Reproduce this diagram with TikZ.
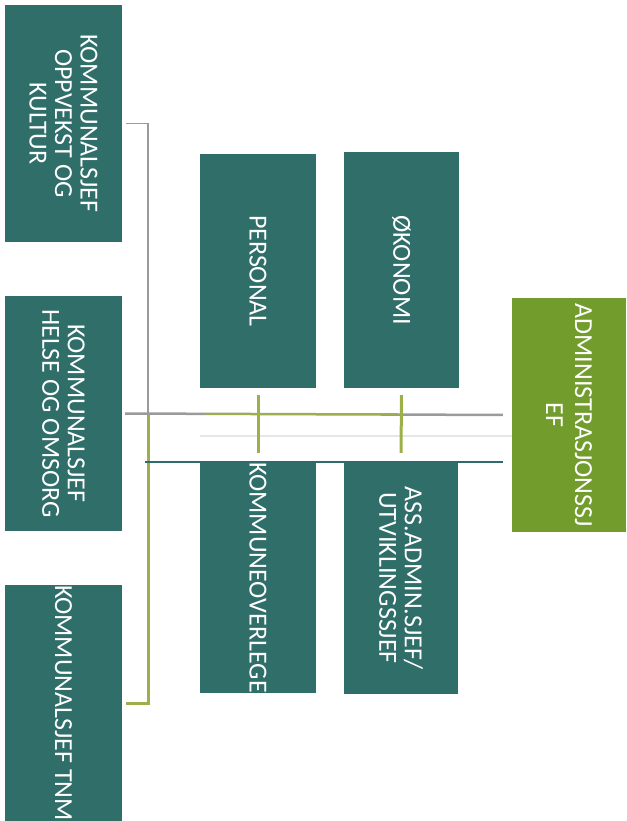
\documentclass[tikz,border=0pt]{standalone}
\usepackage{fontspec}
\setmainfont{Carlito}
\definecolor{tealbox}{HTML}{2F6E69}
\definecolor{greenbox}{HTML}{729C2C}
\definecolor{greenline}{HTML}{9CB04A}
\definecolor{grayline}{HTML}{9A9A9A}
\definecolor{tealline}{HTML}{2F6B6B}
\definecolor{faint}{HTML}{E6E6E6}
\tikzset{
  box/.style={fill=tealbox, text=white, rotate=-90, align=center, inner sep=0pt,
    font=\fontsize{26}{25.5}\selectfont},
  adminbox/.style={box, fill=greenbox, font=\fontsize{26}{29}\selectfont},
  gline/.style={draw=greenline, line width=3pt},
  grline/.style={draw=grayline, line width=1.4pt},
  tline/.style={draw=tealline, line width=2.5pt},
}
\begin{document}
\begin{tikzpicture}[x=1pt,y=-1pt]
\useasboundingbox (0,0) rectangle (626,821);
% boxes: minimum width = vertical extent, minimum height = horizontal extent
\node[box, minimum width=237pt, minimum height=117pt] (oppvekst) at (63.5,123.5) {KOMMUNALSJEF\\OPPVEKST OG\\KULTUR};
\node[box, minimum width=235pt, minimum height=117pt] (helse) at (63.5,413.5) {KOMMUNALSJEF\\HELSE OG OMSORG};
\node[box, minimum width=236pt, minimum height=117pt] (tnm) at (63.5,703) {KOMMUNALSJEF TNM};
\node[box, minimum width=234pt, minimum height=116pt] (personal) at (258,271) {PERSONAL};
\node[box, minimum width=236pt, minimum height=115pt] (okonomi) at (401.5,270) {ØKONOMI};
\node[adminbox, minimum width=234pt, minimum height=114pt] (admin) at (569,415) {ADMINISTRASJONSSJ\\EF};
\node[box, minimum width=231pt, minimum height=116pt] (overlege) at (258,577.5) {KOMMUNEOVERLEGE};
\node[box, minimum width=232pt, minimum height=114pt] (assadmin) at (401,578) {ASS.ADMIN.SJEF/\\UTVIKLINGSSJEF};
% connectors
\coordinate (spine) at (148,414);
\coordinate (tealstart) at (145,462);
\draw[faint, line width=1.5pt] (200,436) -- (admin.south |- 0,436);
\draw[grline, line cap=rect] ([xshift=4pt]oppvekst.north) -| (spine);
\draw[gline] (spine) |- ([xshift=4pt]tnm.north);
\draw[grline, line width=2.5pt, shorten <=3pt, shorten >=9pt] (helse.north) -- (admin.south);
\draw[gline, line width=2.5pt] (205,414) -- (398,414);
\draw[gline, shorten <=7pt, shorten >=9pt] (personal.east) -- (overlege.west);
\draw[gline, shorten <=7pt, shorten >=9pt] (okonomi.east) -- (assadmin.west);
\draw[tline, shorten >=9pt] (tealstart) -- (admin.south |- tealstart);
\end{tikzpicture}
\end{document}
